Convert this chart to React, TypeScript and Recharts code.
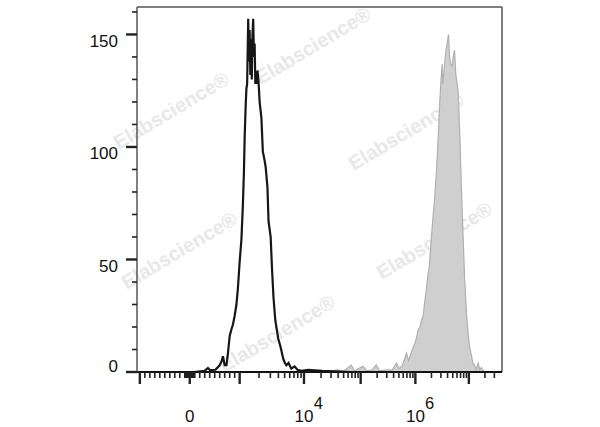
import { ComposedChart, Area, Line, XAxis, YAxis, ReferenceLine } from 'recharts';

// channel positions (0-1024 display scale) and event counts
const blackChannels = [0, 160, 190, 199, 205, 220, 232, 238, 241, 246, 251, 255, 260, 265, 269, 274, 279, 283, 288, 293, 297, 300, 302, 305, 307, 309, 312, 314, 316, 318, 320, 322, 324, 326, 328, 330, 332, 334, 336, 338, 341, 344, 349, 353, 358, 361, 366, 369, 375, 379, 383, 388, 396, 403, 410, 415, 419, 425, 433, 442, 450, 461, 480, 520, 600, 1024];
const blackCounts = [0, 0, 0.5, 1.8, 0.8, 1, 3, 5, 7, 3, 3, 8, 16, 19, 21, 25, 30, 37, 49, 59, 74, 89, 104, 119, 126, 128, 157, 138, 152, 132, 148, 130, 150, 157, 140, 146, 128, 133, 128, 134, 129, 120, 113, 98, 94, 91, 82, 67, 60, 45, 33, 23, 15, 11, 6, 4, 3, 4, 1.5, 2.5, 1, 0.5, 1, 0.5, 0, 0];

const grayChannels = [0, 540, 560, 580, 601, 610, 634, 645, 660, 671, 680, 700, 715, 728, 735, 745, 756, 762, 770, 774, 780, 784, 789, 793, 798, 803, 807, 812, 816, 820, 826, 831, 835, 840, 845, 849, 853, 856, 858, 862, 866, 870, 874, 877, 880, 884, 888, 891, 894, 898, 901, 906, 910, 915, 919, 924, 929, 933, 938, 942, 947, 952, 957, 962, 966, 975, 1024];
const grayCounts = [0, 0, 1, 0.5, 3, 0.5, 2.5, 0.5, 1, 3.2, 0.5, 1, 0.8, 4, 1.5, 3, 8.4, 5, 9, 10.6, 13, 15, 19, 19.5, 23, 25, 31, 37, 43, 47, 60, 70, 77, 89, 104, 119, 130, 137, 128, 135, 142, 146, 150, 140, 137, 136, 141, 143, 133, 128, 125, 104, 82, 60, 42, 27, 17, 11, 7.7, 4, 3.2, 1, 4, 1, 2, 0, 0];

// y axis
const Y_MAX = 162.2;
const yTicks = [0, 10, 20, 30, 40, 50, 60, 70, 80, 90, 100, 110, 120, 130, 140, 150, 160];
const yMajor = [0, 50, 100, 150];

// x axis: channel of 10^3 .. 10^7 on the display scale
const decadeChannels = [288, 468.5, 627.5, 781, 931];
const xMajorValues = [-1000, 0, 1e3, 1e4, 1e5, 1e6, 1e7];
const xMinorSteps = [2, 3, 4, 5, 6, 7, 8, 9];
const xLabels: Record<string, [string, string]> = {
  '0': ['0', ''],
  '10000': ['10', '4'],
  '1000000': ['10', '6'],
};

function toChannel(v: number) {
  if (Math.abs(v) <= 1000) return 148 + v * 0.14;
  const d = Math.log10(v);
  const k = Math.floor(d) - 3;
  if (k >= decadeChannels.length - 1) {
    const last = decadeChannels.length - 1;
    return decadeChannels[last] + (d - 7) * (decadeChannels[last] - decadeChannels[last - 1]);
  }
  return decadeChannels[k] + (d - Math.floor(d)) * (decadeChannels[k + 1] - decadeChannels[k]);
}

const xTickInfo: { ch: number; major: boolean; value: number }[] = [];
xMajorValues.forEach((v) => xTickInfo.push({ ch: toChannel(v), major: true, value: v }));
for (let i = 1; i <= 9; i++) xTickInfo.push({ ch: toChannel(-i * 100), major: false, value: -i * 100 });
for (let i = 1; i <= 9; i++) {
  xTickInfo.push({ ch: toChannel(-i * 10), major: false, value: -i * 10 });
  xTickInfo.push({ ch: toChannel(i * 10), major: false, value: i * 10 });
  xTickInfo.push({ ch: toChannel(i * 100), major: false, value: i * 100 });
}
[1e3, 1e4, 1e5, 1e6].forEach((dec) =>
  xMinorSteps.forEach((m) => xTickInfo.push({ ch: toChannel(m * dec), major: false, value: m * dec }))
);
[2e7, 3e7].forEach((v) => xTickInfo.push({ ch: toChannel(v), major: false, value: v }));
xTickInfo.sort((a, b) => a.ch - b.ch);
const xTicks = xTickInfo.map((t) => t.ch);

const blackData = blackChannels.map((ch, i) => ({ ch, count: blackCounts[i] }));
const grayData = grayChannels.map((ch, i) => ({ ch, count: grayCounts[i] }));

const FONT = '"Liberation Sans", Arial, Helvetica, sans-serif';
const PLOT_LEFT = 137;
const PLOT_BOTTOM = 372;

function YTick(props: any) {
  const { y, payload } = props;
  const v = payload.value;
  const major = yMajor.includes(v);
  const len = major ? 11 : 5;
  return (
    <g>
      <line x1={PLOT_LEFT - len} x2={PLOT_LEFT} y1={y} y2={y} stroke="#222" strokeWidth={major ? 2.4 : 1.6} />
      {major && (
        <text x={118} y={v === 0 ? y : y + 12.5} textAnchor="end" fontSize={17} fill="#111" fontFamily={FONT}>
          {v}
        </text>
      )}
    </g>
  );
}

function XTick(props: any) {
  const { x, payload } = props;
  let info = xTickInfo[0];
  let best = Infinity;
  xTickInfo.forEach((t) => {
    const d = Math.abs(t.ch - payload.value);
    if (d < best) {
      best = d;
      info = t;
    }
  });
  const len = info.major ? 12 : 6;
  const label = info.major ? xLabels[String(info.value)] : undefined;
  return (
    <g>
      <line x1={x} x2={x} y1={PLOT_BOTTOM} y2={PLOT_BOTTOM + len} stroke="#222" strokeWidth={info.major ? 2.4 : 1.6} />
      {label && (
        <>
          <text x={x} y={422} textAnchor="middle" fontSize={17} fill="#111" fontFamily={FONT}>
            {label[0]}
          </text>
          {label[1] && (
            <text x={x + 9.7} y={408.5} textAnchor="start" fontSize={16.5} fill="#111" fontFamily={FONT}>
              {label[1]}
            </text>
          )}
        </>
      )}
    </g>
  );
}

const watermarks = [
  { x: 172, y: 112 },
  { x: 314, y: 47 },
  { x: 407, y: 133 },
  { x: 180, y: 252 },
  { x: 435, y: 242 },
  { x: 278, y: 335 },
];

export default function App() {
  return (
    <div style={{ position: 'absolute', left: 0, top: 0, width: 600, height: 427, background: '#fff' }}>
      <svg width={600} height={427} style={{ position: 'absolute', left: 0, top: 0 }}>
        {watermarks.map((w, i) => (
          <text
            key={i}
            x={w.x}
            y={w.y}
            textAnchor="middle"
            dominantBaseline="middle"
            fontSize={20}
            fontWeight="bold"
            fill="#e8e8e8"
            fontFamily={FONT}
            transform={`rotate(-31 ${w.x} ${w.y})`}
          >
            Elabscience®
          </text>
        ))}
      </svg>
      <div style={{ position: 'absolute', left: 0, top: 0 }}>
        <ComposedChart width={600} height={427} margin={{ top: 7, right: 98, bottom: 5, left: 77 }}>
          <XAxis
            dataKey="ch"
            type="number"
            domain={[0, 1024]}
            allowDataOverflow
            ticks={xTicks}
            interval={0}
            height={50}
            tickLine={false}
            tick={<XTick />}
            axisLine={{ stroke: '#111', strokeWidth: 2 }}
          />
          <YAxis
            type="number"
            domain={[0, Y_MAX]}
            allowDataOverflow
            ticks={yTicks}
            interval={0}
            width={60}
            tickLine={false}
            tick={<YTick />}
            axisLine={{ stroke: '#555', strokeWidth: 1.5 }}
          />
          <ReferenceLine y={Y_MAX} stroke="#555" strokeWidth={1.5} />
          <ReferenceLine x={1024} stroke="#555" strokeWidth={1.5} />
          <Area
            data={grayData}
            dataKey="count"
            type="linear"
            fill="#cfcfcf"
            fillOpacity={1}
            stroke="#b0b0b0"
            strokeWidth={1.2}
            isAnimationActive={false}
          />
          <Line
            data={blackData}
            dataKey="count"
            type="linear"
            stroke="#161616"
            strokeWidth={2.2}
            dot={false}
            isAnimationActive={false}
          />
        </ComposedChart>
      </div>
    </div>
  );
}
